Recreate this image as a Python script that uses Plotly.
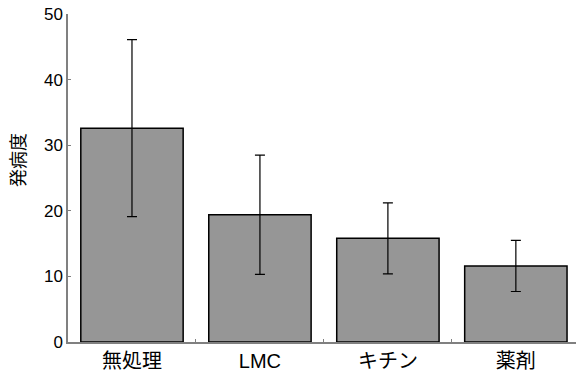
import plotly.graph_objects as go

categories = ["無処理", "LMC", "キチン", "薬剤"]
means = [32.6, 19.4, 15.8, 11.6]
errors = [13.5, 9.1, 5.4, 3.9]
y_ticks = [0, 10, 20, 30, 40, 50]
y_title = "発病度"

FONT = "Liberation Sans, Arial, Noto Sans CJK JP, sans-serif"

fig = go.Figure(go.Bar(
    x=categories,
    y=means,
    marker=dict(color="#969696", line=dict(color="#000000", width=1.5)),
    error_y=dict(type="data", array=errors, visible=True,
                 color="#000000", thickness=1.2, width=5),
))

fig.update_layout(
    width=576, height=376,
    margin=dict(l=68, r=0, t=14, b=34),
    paper_bgcolor="white", plot_bgcolor="white",
    bargap=0.2,
    showlegend=False,
    font=dict(family=FONT, color="#000000"),
    annotations=[dict(
        text=y_title, textangle=-90, showarrow=False,
        xref="paper", yref="paper", x=0, xshift=-51, y=(342 - 160) / 328,
        xanchor="center", yanchor="middle",
        font=dict(family="Noto Sans CJK JP, sans-serif", size=18, color="#000000"),
    )],
)

fig.update_xaxes(
    range=[-0.5, 3.47], automargin=False,
    showline=True, linecolor="#808080", linewidth=1.5,
    ticks="inside", tickson="boundaries", ticklen=3, tickcolor="#808080",
    tickfont=dict(family="Liberation Sans, Noto Sans CJK JP, sans-serif", size=20, color="#000000"),
    showgrid=False, zeroline=False,
)
fig.update_yaxes(
    range=[0, 50], tickvals=y_ticks, automargin=False,
    showline=True, linecolor="#808080", linewidth=1.5,
    ticks="inside", ticklen=3, tickcolor="#808080",
    tickfont=dict(family="Liberation Sans, Arial, sans-serif", size=17, color="#000000"),
    showgrid=False, zeroline=False,
)

fig.write_html(
    "out.html",
    config={"displayModeBar": False},
    post_script="document.body.style.margin='0px';document.body.style.overflow='hidden';",
)
